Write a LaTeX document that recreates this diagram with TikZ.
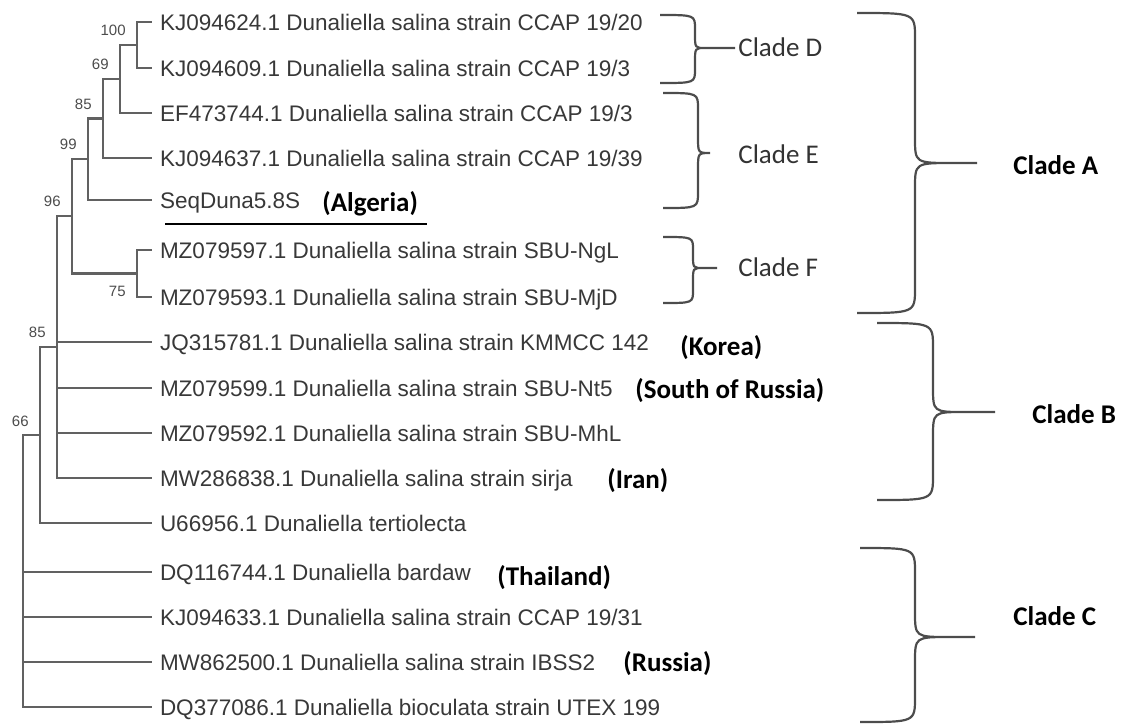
\documentclass[tikz,border=0pt]{standalone}
\usepackage{fontspec}
\setmainfont{Liberation Sans}
\newfontfamily\cladefont{Carlito}

% curly bracket: left x, top y, stem x, tip y, tip start x, tip x, bottom y, bend
\newcommand{\cladebrace}[8]{%
  \draw[brace] (#1,#2) .. controls (#3,#2) .. (#3,#2+#8) -- (#3,#4-#8)
    .. controls (#3,#4) .. (#5,#4) -- (#6,#4)
    (#5,#4) .. controls (#3,#4) .. (#3,#4+#8) -- (#3,#7-#8)
    .. controls (#3,#7) .. (#1,#7);}

\begin{document}
\begin{tikzpicture}[
    x=0.5pt, y=-0.5pt,
    tree/.style={draw=black!62, line width=1.1pt},
    brace/.style={draw=black!70, line width=1.1pt},
    leaf/.style={anchor=west, inner xsep=4pt, inner ysep=0pt, outer sep=0pt,
        text=black!78, font=\fontsize{11.25}{13}\selectfont,
        text height=8pt, text depth=0pt},
    boot/.style={inner sep=0pt, text=black!70, font=\fontsize{7.5}{9}\selectfont,
        text height=5.4pt, text depth=0pt},
    place/.style={anchor=west, inner sep=0pt, font=\cladefont\bfseries\fontsize{13.5}{16}\selectfont,
        text height=8.7pt, text depth=0pt},
    clade/.style={anchor=west, inner sep=0pt, text=black!80,
        font=\cladefont\fontsize{13.5}{16}\selectfont, text height=8.7pt, text depth=0pt}
]
\useasboundingbox (0,0) rectangle (1122,724);

% leaves
\node[leaf] (l1) at (152,22) {KJ094624.1 Dunaliella salina strain CCAP 19/20};
\node[leaf] (l2) at (152,68) {KJ094609.1 Dunaliella salina strain CCAP 19/3};
\node[leaf] (l3) at (152,113) {EF473744.1 Dunaliella salina strain CCAP 19/3};
\node[leaf] (l4) at (152,158) {KJ094637.1 Dunaliella salina strain CCAP 19/39};
\node[leaf] (l5) at (152,200) {SeqDuna5.8S};
\node[leaf] (l6) at (152,250) {MZ079597.1 Dunaliella salina strain SBU-NgL};
\node[leaf] (l7) at (152,297) {MZ079593.1 Dunaliella salina strain SBU-MjD};
\node[leaf] (l8) at (152,342) {JQ315781.1 Dunaliella salina strain KMMCC 142};
\node[leaf] (l9) at (152,388) {MZ079599.1 Dunaliella salina strain SBU-Nt5};
\node[leaf] (l10) at (152,433) {MZ079592.1 Dunaliella salina strain SBU-MhL};
\node[leaf] (l11) at (152,478) {MW286838.1 Dunaliella salina strain sirja};
\node[leaf] (l12) at (152,523) {U66956.1 Dunaliella tertiolecta};
\node[leaf] (l13) at (152,572) {DQ116744.1 Dunaliella bardaw};
\node[leaf] (l14) at (152,617) {KJ094633.1 Dunaliella salina strain CCAP 19/31};
\node[leaf] (l15) at (152,662) {MW862500.1 Dunaliella salina strain IBSS2};
\node[leaf] (l16) at (152,707) {DQ377086.1 Dunaliella bioculata strain UTEX 199};

% inner nodes
\coordinate (n100) at (137,45);
\coordinate (n69) at (120,79);
\coordinate (n85a) at (103,118.5);
\coordinate (n99) at (88,159);
\coordinate (n75) at (137,273.5);
\coordinate (n96) at (72,216);
\coordinate (n85b) at (57,347);
\coordinate (n66) at (40,435);
\coordinate (root) at (23,571);

\draw[tree] (n100) |- (l1.west) (n100) |- (l2.west);
\draw[tree] (n69) |- (n100) (n69) |- (l3.west);
\draw[tree] (n85a) |- (n69) (n85a) |- (l4.west);
\draw[tree] (n99) |- (n85a) (n99) |- (l5.west);
\draw[tree] (n75) |- (l6.west) (n75) |- (l7.west);
\draw[tree] (n96) |- (n99) (n96) |- (n75);
\draw[tree] (n85b) |- (n96) (n85b) |- (l8.west) (n85b) |- (l9.west)
    (n85b) |- (l10.west) (n85b) |- (l11.west);
\draw[tree] (n66) |- (n85b) (n66) |- (l12.west);
\draw[tree] (root) |- (n66) (root) |- (l13.west) (root) |- (l14.west)
    (root) |- (l15.west) (root) |- (l16.west);

% bootstrap values
\node[boot, anchor=south east] (b100) at ([shift={(-11,-9)}]n100) {100};
\node[boot, anchor=south east] (b69) at ([shift={(-11,-9)}]n69) {69};
\node[boot, anchor=south east] (b85a) at ([shift={(-11,-9)}]n85a) {85};
\node[boot, anchor=south east] (b99) at ([shift={(-11,-9)}]n99) {99};
\node[boot, anchor=north east] (b75) at ([shift={(-11,12)}]n75) {75};
\node[boot, anchor=south east] (b96) at ([shift={(-11,-9)}]n96) {96};
\node[boot, anchor=south east] (b85b) at ([shift={(-11,-9)}]n85b) {85};
\node[boot, anchor=south east] (b66) at ([shift={(-11,-8)}]n66) {66};

% origins
\node[place] (alg) at (322,203) {(Algeria)};
\draw[line width=1.1pt] (165,224) -- (427,224);
\node[place] (kor) at (680,347) {(Korea)};
\node[place] (srus) at (635,390) {(South of Russia)};
\node[place] (iran) at (607,480) {(Iran)};
\node[place] (thai) at (497,577) {(Thailand)};
\node[place] (rus) at (623,663) {(Russia)};

% clades
\cladebrace{660}{15}{695}{48}{705}{735}{83}{14}
\cladebrace{663}{93}{698}{153}{710}{710}{208}{16}
\cladebrace{663}{237}{693}{268}{703}{717}{303}{13}
\cladebrace{857}{13}{915}{163}{953}{977}{313}{25}
\cladebrace{877}{323}{933}{412}{965}{995}{500}{25}
\cladebrace{860}{548}{915}{637}{950}{975}{722}{25}

\node[clade] (cD) at (738,48) {Clade D};
\node[clade] (cE) at (738,155) {Clade E};
\node[clade] (cF) at (738,268) {Clade F};
\node[clade, font=\cladefont\bfseries\fontsize{13.5}{16}\selectfont, text=black] (cA) at (1013,166) {Clade A};
\node[clade, font=\cladefont\bfseries\fontsize{13.5}{16}\selectfont, text=black] (cB) at (1032,415) {Clade B};
\node[clade, font=\cladefont\bfseries\fontsize{13.5}{16}\selectfont, text=black] (cC) at (1013,617) {Clade C};

\end{tikzpicture}
\end{document}
